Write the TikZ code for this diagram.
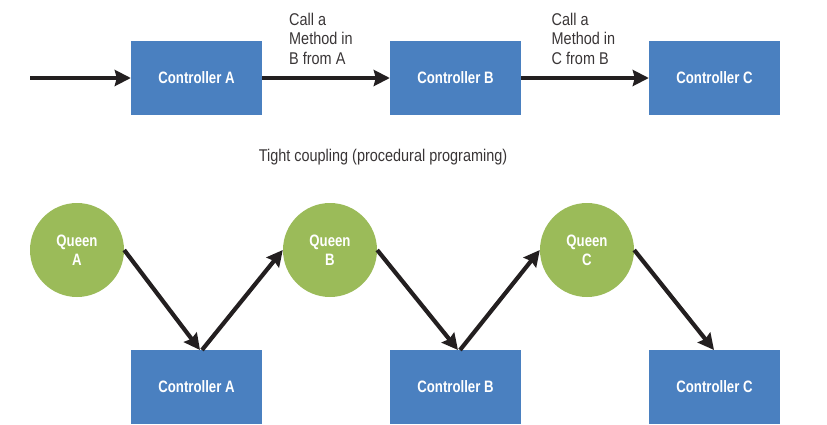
\documentclass[tikz,border=0pt]{standalone}
\usepackage{fontspec}
\setmainfont{Liberation Sans}[FakeStretch=0.85, BoldFeatures={FakeStretch=0.8}]
\usetikzlibrary{arrows.meta}
\definecolor{ctlblue}{HTML}{4A80C0}
\definecolor{queengreen}{HTML}{9BBB59}
\definecolor{arrowdark}{HTML}{231F20}
\begin{document}
\begin{tikzpicture}[x=1pt,y=-1pt,
  ctl/.style={rectangle, fill=ctlblue, draw=none, minimum width=131pt, minimum height=74pt, inner sep=0pt, text=white, font=\fontsize{16.5}{19}\selectfont\bfseries},
  queen/.style={circle, fill=queengreen, draw=none, minimum size=94pt, inner sep=0pt, text=white, align=center, font=\fontsize{16.5}{19}\selectfont\bfseries},
  lbl/.style={anchor=north west, align=left, inner sep=0pt, text=arrowdark!90, font=\fontsize{17}{19.5}\selectfont},
  conn/.style={draw=arrowdark, line width=4.2pt, -{Stealth[length=16pt,width=16pt,inset=2pt]}}
]
\useasboundingbox (0,0) rectangle (827,424);
% top row
\node[ctl] (ta) at (196.5,78) {Controller A};
\node[ctl] (tb) at (455.5,78) {Controller B};
\node[ctl] (tc) at (714.5,78) {Controller C};
\coordinate (start) at (30,78);
\draw[conn] (start) -- (ta.west);
\draw[conn] (ta.east) -- (tb.west);
\draw[conn] (tb.east) -- (tc.west);
\node[lbl] (l1) at (289,12.5) {Call a\\Method in\\B from A};
\node[lbl] (l2) at (551.5,12.5) {Call a\\Method in\\C from B};
\node[anchor=base, text=arrowdark!90, font=\fontsize{17}{19}\selectfont, inner sep=0pt] (cap) at (383,161.5) {Tight coupling (procedural programing)};
% bottom row
\node[queen] (qa) at (77,250) {Queen\\A};
\node[queen] (qb) at (330,250) {Queen\\B};
\node[queen] (qc) at (587,250) {Queen\\C};
\node[ctl] (ba) at (196.5,387) {Controller A};
\node[ctl] (bb) at (455.5,387) {Controller B};
\node[ctl] (bc) at (714.5,387) {Controller C};
\coordinate (baL) at (200,350);
\coordinate (baR) at (202,350);
\coordinate (bbL) at (458,350);
\coordinate (bbR) at (460,350);
\coordinate (bcT) at (714,350);
\draw[conn] (qa.east) -- (baL);
\draw[conn] (baR) -- (qb.west);
\draw[conn] (qb.east) -- (bbL);
\draw[conn] (bbR) -- (qc.west);
\draw[conn] (qc.east) -- (bcT);
\end{tikzpicture}
\end{document}
